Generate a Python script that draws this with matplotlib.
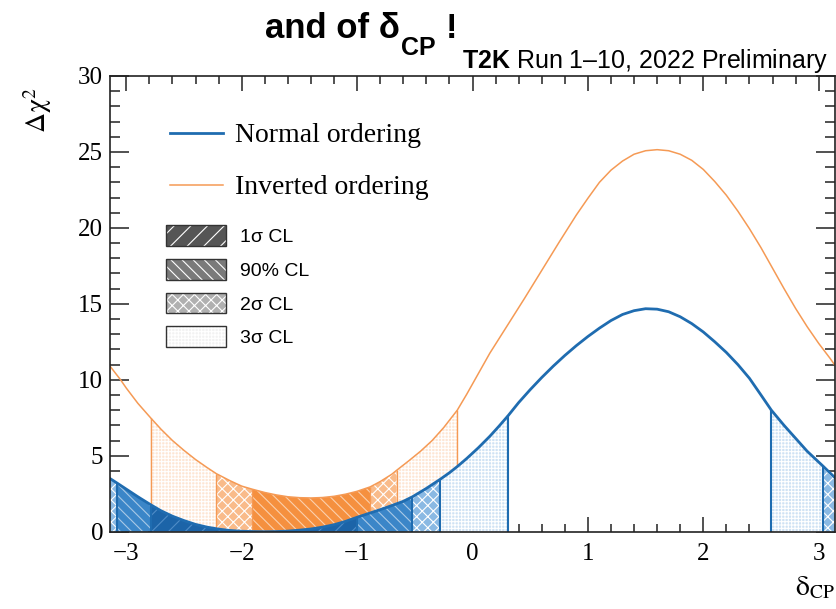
import numpy as np
import matplotlib
matplotlib.use("Agg")
import matplotlib.pyplot as plt
import matplotlib.ticker as mticker
from matplotlib.lines import Line2D
from matplotlib.patches import Patch
from matplotlib.legend_handler import HandlerTuple

# --- data ----------------------------------------------------------------
x_no = [-np.pi, -3.08, -3.0, -2.9, -2.79, -2.7, -2.6, -2.5, -2.4, -2.3, -2.2,
        -2.1, -2.0, -1.9, -1.8, -1.7, -1.6, -1.5, -1.4, -1.3, -1.2, -1.1,
        -1.0, -0.9, -0.8, -0.7, -0.6, -0.52, -0.4, -0.28, -0.2, -0.13, -0.05,
        0.05, 0.15, 0.23, 0.31, 0.4, 0.5, 0.6, 0.7, 0.8, 0.9, 1.0, 1.1, 1.2,
        1.3, 1.4, 1.5, 1.6, 1.7, 1.8, 1.9, 2.0, 2.1, 2.2, 2.3, 2.4, 2.5, 2.59,
        2.7, 2.8, 2.9, 3.04, np.pi]
dchi2_no = [3.5, 3.2, 2.8, 2.3, 1.78, 1.38, 1.02, 0.73, 0.48, 0.3, 0.17,
            0.08, 0.03, 0.01, 0.0, 0.01, 0.04, 0.1, 0.18, 0.3, 0.46, 0.68,
            0.95, 1.2, 1.45, 1.72, 2.0, 2.3, 2.85, 3.45, 3.88, 4.3, 4.82,
            5.52, 6.28, 6.95, 7.65, 8.5, 9.35, 10.15, 10.9, 11.6, 12.25, 12.85,
            13.4, 13.9, 14.3, 14.55, 14.68, 14.65, 14.48, 14.15, 13.7, 13.15,
            12.5, 11.8, 11.0, 10.1, 9.0, 8.0, 7.0, 6.15, 5.3, 4.3, 3.55]

x_io = [-np.pi, -3.05, -3.0, -2.9, -2.79, -2.7, -2.6, -2.5, -2.4, -2.3,
        -2.22, -2.1, -2.0, -1.91, -1.8, -1.7, -1.6, -1.5, -1.4, -1.3, -1.2,
        -1.1, -1.0, -0.887, -0.8, -0.7, -0.656, -0.55, -0.45, -0.35, -0.25,
        -0.132, -0.05, 0.05, 0.15, 0.3, 0.45, 0.6, 0.75, 0.9, 1.0, 1.1, 1.2,
        1.3, 1.4, 1.5, 1.6, 1.7, 1.8, 1.9, 2.0, 2.1, 2.2, 2.3, 2.4, 2.5, 2.6,
        2.7, 2.8, 2.9, 3.0, 3.1, np.pi]
dchi2_io = [10.9, 10.0, 9.45, 8.45, 7.5, 6.75, 6.0, 5.35, 4.75, 4.22,
            3.82, 3.35, 3.0, 2.8, 2.58, 2.42, 2.3, 2.24, 2.22, 2.25, 2.33,
            2.47, 2.66, 2.95, 3.3, 3.78, 4.05, 4.68, 5.3, 6.0, 6.85,
            8.0, 9.05, 10.4, 11.75, 13.55, 15.35, 17.2, 19.05, 20.85, 21.95,
            23.0, 23.8, 24.4, 24.85, 25.08, 25.15, 25.08, 24.85, 24.45, 23.85,
            23.05, 22.15, 21.1, 19.95, 18.7, 17.35, 16.0, 14.7, 13.5, 12.4,
            11.4, 10.95]

# confidence intervals (lo, hi, level)
no_lo = [-np.pi, -3.08, -2.79, -1.0, -0.52, -0.28, 2.59, 3.04]
no_hi = [-3.08, -2.79, -1.0, -0.52, -0.28, 0.31, 3.04, np.pi]
no_cl = ["2s", "90", "1s", "90", "2s", "3s", "3s", "2s"]

io_lo = [-2.79, -2.22, -1.91, -0.887, -0.656]
io_hi = [-2.22, -1.91, -0.887, -0.656, -0.132]
io_cl = ["3s", "2s", "90", "2s", "3s"]

cl_names = ["1s", "90", "2s", "3s"]
cl_labels = ["1σ CL", "90% CL", "2σ CL", "3σ CL"]

BLUE = "#1f6cb0"
ORANGE = "#f59a55"
HATCH = {"1s": "//", "90": "\\\\\\", "2s": "xxx", "3s": "+++++"}
# face / hatch colours per CL
BLUE_FILL = {"1s": ("#1c64a8", "#4f8cc7"), "90": ("#3b86c8", "#a9c9e6"),
             "2s": ("#8ab9e3", "#ffffff"), "3s": ("#cfe2f4", "#ffffff")}
ORANGE_FILL = {"90": ("#f5903f", "#fbd0ad"), "2s": ("#f9bb8a", "#ffffff"),
               "3s": ("#fde6d4", "#ffffff")}
GREY_FILL = {"1s": ("#555555", "#ffffff"), "90": ("#7a7a7a", "#ffffff"),
             "2s": ("#b0b0b0", "#ffffff"), "3s": ("#f2f2f2", "#ffffff")}

plt.rcParams["font.family"] = "Liberation Serif"
plt.rcParams["mathtext.fontset"] = "custom"
plt.rcParams["mathtext.rm"] = "Liberation Sans"
plt.rcParams["mathtext.bf"] = "Liberation Sans:bold"
plt.rcParams["hatch.linewidth"] = 0.8


def fill_regions(ax, x, y, lo, hi, cl, colours, line_colour, lw, z):
    x = np.asarray(x)
    y = np.asarray(y)
    for a, b, c in zip(lo, hi, cl):
        m = (x >= a - 1e-6) & (x <= b + 1e-6)
        face, hc = colours[c]
        ax.fill_between(x[m], 0, y[m], facecolor=face, edgecolor=hc,
                        hatch=HATCH[c], linewidth=0, zorder=z)
    for b in sorted(set(lo) | set(hi)):
        if abs(abs(b) - np.pi) < 1e-6:
            continue
        i = int(np.argmin(np.abs(x - b)))
        ax.vlines(x[i], 0, y[i], color=line_colour, lw=lw, zorder=z + 0.5)


fig = plt.figure(figsize=(8.36, 6.09), dpi=100)
ax = fig.add_axes([110 / 836, 77.3 / 609, 725 / 836, 455.7 / 609])

fill_regions(ax, x_io, dchi2_io, io_lo, io_hi, io_cl, ORANGE_FILL, ORANGE, 1.0, 2)
fill_regions(ax, x_no, dchi2_no, no_lo, no_hi, no_cl, BLUE_FILL, BLUE, 1.5, 3)

ax.plot(x_io, dchi2_io, color=ORANGE, lw=1.1, zorder=5)
ax.plot(x_no, dchi2_no, color=BLUE, lw=2.0, zorder=5)

ax.set_xlim(-np.pi, np.pi)
ax.set_ylim(0, 30)
ax.xaxis.set_major_locator(mticker.MultipleLocator(1))
ax.xaxis.set_minor_locator(mticker.MultipleLocator(0.2))
ax.yaxis.set_major_locator(mticker.MultipleLocator(5))
ax.yaxis.set_minor_locator(mticker.MultipleLocator(1))
ax.tick_params(axis="both", which="both", direction="in", top=True, right=True,
               color="#222222", width=1.1)
ax.tick_params(axis="x", which="major", length=11, pad=8, labelsize=18)
ax.tick_params(axis="x", which="minor", length=5.5)
ax.tick_params(axis="y", which="major", length=14, pad=5, labelsize=18)
ax.tick_params(axis="y", which="minor", length=7)
for s in ax.spines.values():
    s.set_linewidth(1.2)
    s.set_color("#222222")
    s.set_zorder(10)

# legends
line_handles = [Line2D([], [], color=BLUE, lw=2.0),
                Line2D([], [], color=ORANGE, lw=1.1)]
leg1 = ax.legend(line_handles, ["Normal ordering", "Inverted ordering"],
                 loc="upper left", bbox_to_anchor=(0.083, 0.897), frameon=False,
                 borderpad=0, borderaxespad=0, fontsize=20, handlelength=1.9,
                 handletextpad=0.45, labelspacing=0.96)
ax.add_artist(leg1)

cl_handles = []
for c in cl_names:
    face, hc = GREY_FILL[c]
    cl_handles.append((Patch(facecolor=face, edgecolor=hc, hatch=HATCH[c], lw=0),
                       Patch(fill=False, edgecolor="#333333", lw=1.0)))
ax.legend(cl_handles, cl_labels, handler_map={tuple: HandlerTuple(ndivide=1)},
          loc="upper left", bbox_to_anchor=(0.077, 0.672), frameon=False,
          borderpad=0, borderaxespad=0, prop={"family": "Liberation Sans", "size": 14},
          handlelength=3.1, handleheight=1.25, handletextpad=0.7, labelspacing=0.66)

# titles and axis labels
t1 = fig.text(265 / 836, 1 - 38 / 609, "and of δ", family="Liberation Sans",
              fontweight="bold", fontsize=25, va="baseline")
t2 = ax.annotate("CP", xy=(1, 0), xycoords=t1, xytext=(1, -7.5),
                 textcoords="offset points", family="Liberation Sans",
                 fontweight="bold", fontsize=18, va="baseline")
ax.annotate("!", xy=(1, 0), xycoords=t2, xytext=(7, 16),
            textcoords="offset points", family="Liberation Sans",
            fontweight="bold", fontsize=25, va="baseline")
fig.text(828 / 836, 1 - 68 / 609, r"$\mathbf{T2K}$ Run 1–10, 2022 Preliminary",
         family="Liberation Sans", fontsize=18, ha="right", va="baseline")
fig.text(38 / 836, 1 - 110 / 609, r"$\mathrm{\Delta\chi}^{2}$", rotation=90,
         math_fontfamily="stix", fontsize=20, ha="center", va="center")
fig.text(815 / 836, 1 - 588 / 609, r"$\mathrm{\delta}_{\mathrm{CP}}$",
         math_fontfamily="stix", fontsize=20, ha="center", va="center")

fig.savefig("out.png", dpi=100)
